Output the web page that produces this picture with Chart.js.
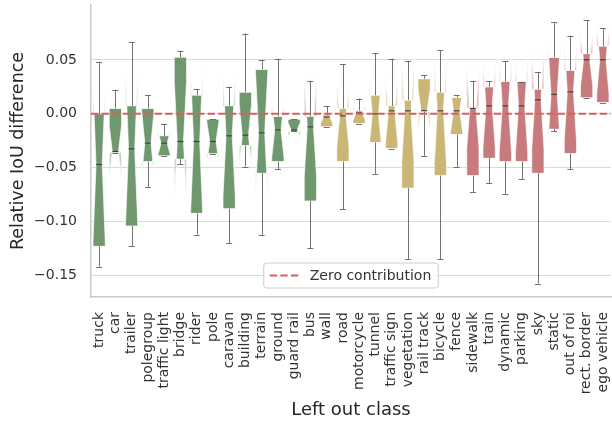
<!DOCTYPE html>
<html>
<head>
<meta charset="utf-8">
<script src="https://cdn.jsdelivr.net/npm/chart.js@4.4.1/dist/chart.umd.min.js"></script>
<style>
  html, body { margin: 0; padding: 0; background: #ffffff; }
  #wrap { width: 612px; height: 421px; position: relative; }
</style>
</head>
<body>
<div id="wrap"><canvas id="chart"></canvas></div>
<script>
// Left-out classes, in plotting order
const classes = [
  'truck', 'car', 'trailer', 'polegroup', 'traffic light', 'bridge', 'rider', 'pole',
  'caravan', 'building', 'terrain', 'ground', 'guard rail', 'bus', 'wall', 'road',
  'motorcycle', 'tunnel', 'traffic sign', 'vegetation', 'rail track', 'bicycle', 'fence',
  'sidewalk', 'train', 'dynamic', 'parking', 'sky', 'static', 'out of roi', 'rect. border', 'ego vehicle'
];

// Colour group of each class (A: harmful, B: neutral, C: helpful)
const classGroup = [
  'A','A','A','A','A','A','A','A','A','A','A','A','A','A',
  'B','B','B','B','B','B','B','B','B',
  'C','C','C','C','C','C','C','C','C'
];

// Box statistics of the relative IoU difference
const q1 = [
  -0.123, -0.036, -0.104, -0.0443, -0.039, -0.042, -0.0923, -0.037,
  -0.088, -0.0294, -0.0551, -0.0443, -0.0164, -0.0808, -0.012, -0.0443,
  -0.009, -0.0266, -0.0322, -0.069, 0.002, -0.0573, -0.0192,
  -0.0573, -0.0412, -0.0443, -0.0443, -0.0551, -0.0142, -0.0368, 0.0149, 0.0105
];
const median = [
  -0.047, -0.035, -0.0325, -0.0272, -0.0272, -0.0257, -0.0257, -0.0257,
  -0.0204, -0.0198, -0.0176, -0.0149, -0.0149, -0.0121, -0.003, -0.0019,
  0.001, 0.0, 0.0028, 0.0028, 0.003, 0.0028, 0.0028,
  0.005, 0.0074, 0.0074, 0.0074, 0.013, 0.018, 0.0204, 0.0502, 0.0502
];
const q3 = [
  0.0, 0.005, 0.0074, 0.005, -0.0204, 0.0526, 0.0173, -0.005,
  0.0074, 0.020, 0.0412, -0.0025, -0.005, -0.0025, -0.001, 0.005,
  0.003, 0.0173, 0.0074, 0.0127, 0.0325, 0.020, 0.0152,
  0.0053, 0.0248, 0.030, 0.030, 0.0229, 0.0523, 0.0402, 0.0557, 0.0628
];
// Notch (confidence interval of the median)
const notchLow = [
  -0.119, -0.059, -0.103, -0.056, -0.038, -0.081, -0.094, -0.045,
  -0.076, -0.049, -0.075, -0.040, -0.022, -0.058, -0.009, -0.031,
  -0.006, -0.030, -0.027, -0.045, -0.017, -0.047, -0.017,
  -0.032, -0.031, -0.036, -0.036, -0.033, -0.027, -0.025, 0.026, 0.019
];
const notchHigh = [
  0.025, -0.011, 0.038, 0.002, -0.016, 0.030, 0.042, -0.007,
  0.036, 0.009, 0.039, 0.010, -0.008, 0.034, 0.003, 0.027,
  0.008, 0.030, 0.033, 0.051, 0.023, 0.053, 0.023,
  0.042, 0.046, 0.051, 0.051, 0.059, 0.063, 0.065, 0.074, 0.081
];
const whiskerLow = [
  -0.142, -0.036, -0.1226, -0.0678, -0.039, -0.0467, -0.112, -0.037,
  -0.12, -0.049, -0.1124, -0.0514, -0.0164, -0.1248, -0.012, -0.0885,
  -0.009, -0.0557, -0.0322, -0.135, -0.039, -0.135, -0.0492,
  -0.0728, -0.0644, -0.0743, -0.0604, -0.1576, -0.016, -0.0514, 0.0149, 0.0105
];
const whiskerHigh = [
  0.048, 0.0223, 0.0666, 0.0176, -0.0096, 0.0585, 0.0229, -0.005,
  0.025, 0.0743, 0.0498, 0.0511, -0.005, 0.0307, 0.0071, 0.0461,
  0.0142, 0.0563, 0.0511, 0.0492, 0.0359, 0.0588, 0.0176,
  0.0307, 0.0303, 0.0489, 0.030, 0.0387, 0.0848, 0.0724, 0.087, 0.0796
];

const yTickValues = [-0.15, -0.10, -0.05, 0.00, 0.05];
const yTickLabels = ['\u22120.15', '\u22120.10', '\u22120.05', '0.00', '0.05'];
const xTitle = 'Left out class';
const yTitle = 'Relative IoU difference';
const zeroLabel = 'Zero contribution';

const groupColor = { A: '#6f986f', B: '#cbb775', C: '#c77b7d' };
const zeroColor = '#d65f5f';
const FONT = '"DejaVu Sans", sans-serif';

function hexA(hex, a) {
  const n = parseInt(hex.slice(1), 16);
  return `rgba(${(n >> 16) & 255},${(n >> 8) & 255},${n & 255},${a})`;
}

// Draws notched boxes, whiskers, medians and the zero reference line
const notchedBoxes = {
  id: 'notchedBoxes',
  afterDatasetsDraw(chart) {
    const ctx = chart.ctx;
    const ys = chart.scales.y;
    const area = chart.chartArea;
    const meta = chart.getDatasetMeta(0);
    const yp = v => ys.getPixelForValue(v);

    meta.data.forEach((el, i) => {
      const cx = el.x;
      const w = el.width;
      const L = cx - w / 2, R = cx + w / 2;
      const NL = cx - w / 4, NR = cx + w / 4;
      const pts = [
        [L, q1[i]], [R, q1[i]], [R, notchLow[i]], [NR, median[i]], [R, notchHigh[i]],
        [R, q3[i]], [L, q3[i]], [L, notchHigh[i]], [NL, median[i]], [L, notchLow[i]]
      ];
      const path = new Path2D();
      pts.forEach(([x, v], k) => k ? path.lineTo(x, yp(v)) : path.moveTo(x, yp(v)));
      path.closePath();
      const col = groupColor[classGroup[i]];
      const top = yp(q3[i]), bot = yp(q1[i]);

      // body between the quartiles
      ctx.save();
      ctx.beginPath();
      ctx.rect(L - 2, top, w + 4, bot - top);
      ctx.clip();
      ctx.fillStyle = col;
      ctx.fill(path);
      ctx.restore();

      // notch tips reaching past the quartiles
      ctx.save();
      ctx.beginPath();
      ctx.rect(area.left, area.top, area.right - area.left, area.bottom - area.top);
      ctx.rect(L - 2, top, w + 4, bot - top);
      ctx.clip('evenodd');
      ctx.fillStyle = hexA(col, 0.45);
      ctx.fill(path);
      ctx.restore();

      ctx.save();
      ctx.strokeStyle = 'rgba(255,255,255,0.6)';
      ctx.lineWidth = 1;
      ctx.lineJoin = 'miter';
      ctx.stroke(path);
      ctx.restore();

      // whiskers and caps
      ctx.save();
      ctx.strokeStyle = 'rgba(90,90,90,0.85)';
      ctx.lineWidth = 1;
      const capL = cx - w / 4, capR = cx + w / 4;
      const seg = (x1, y1, x2, y2) => { ctx.beginPath(); ctx.moveTo(x1, y1); ctx.lineTo(x2, y2); ctx.stroke(); };
      const xc = Math.round(cx) + 0.5;
      if (whiskerHigh[i] > q3[i]) {
        seg(xc, yp(q3[i]), xc, yp(whiskerHigh[i]));
      }
      if (whiskerLow[i] < q1[i]) {
        seg(xc, yp(q1[i]), xc, yp(whiskerLow[i]));
      }
      seg(capL, Math.round(yp(whiskerHigh[i])) + 0.5, capR, Math.round(yp(whiskerHigh[i])) + 0.5);
      seg(capL, Math.round(yp(whiskerLow[i])) + 0.5, capR, Math.round(yp(whiskerLow[i])) + 0.5);
      // median
      ctx.strokeStyle = 'rgba(60,60,60,0.9)';
      ctx.lineWidth = 1.2;
      seg(NL, yp(median[i]), NR, yp(median[i]));
      ctx.restore();
    });

    // zero reference line
    ctx.save();
    ctx.strokeStyle = zeroColor;
    ctx.lineWidth = 2;
    ctx.setLineDash([7.4, 3.2]);
    ctx.beginPath();
    ctx.moveTo(area.left, yp(0));
    ctx.lineTo(area.right, yp(0));
    ctx.stroke();
    ctx.restore();
  },
  afterDraw(chart) {
    // legend box, lower centre of the plot area
    const ctx = chart.ctx;
    const area = chart.chartArea;
    ctx.save();
    ctx.font = `14px ${FONT}`;
    const tw = ctx.measureText(zeroLabel).width;
    const bw = 6 + 30 + 10 + tw + 7;
    const bh = 25;
    const bx = (area.left + area.right) / 2 - bw / 2;
    const by = area.bottom - 9 - bh;
    const r = 3;
    ctx.beginPath();
    ctx.moveTo(bx + r, by);
    ctx.arcTo(bx + bw, by, bx + bw, by + bh, r);
    ctx.arcTo(bx + bw, by + bh, bx, by + bh, r);
    ctx.arcTo(bx, by + bh, bx, by, r);
    ctx.arcTo(bx, by, bx + bw, by, r);
    ctx.closePath();
    ctx.fillStyle = 'rgba(255,255,255,0.85)';
    ctx.fill();
    ctx.strokeStyle = '#cccccc';
    ctx.lineWidth = 1;
    ctx.stroke();
    const ly = by + bh / 2;
    ctx.strokeStyle = zeroColor;
    ctx.lineWidth = 2;
    ctx.setLineDash([7.4, 3.2]);
    ctx.beginPath();
    ctx.moveTo(bx + 6, ly);
    ctx.lineTo(bx + 36, ly);
    ctx.stroke();
    ctx.setLineDash([]);
    ctx.fillStyle = '#333333';
    ctx.textAlign = 'left';
    ctx.textBaseline = 'middle';
    ctx.fillText(zeroLabel, bx + 46, ly + 1);
    ctx.restore();
  }
};

new Chart(document.getElementById('chart'), {
  type: 'bar',
  data: {
    labels: classes,
    datasets: [{
      label: 'IQR',
      data: q1.map((v, i) => [v, q3[i]]),
      backgroundColor: 'rgba(0,0,0,0)',
      borderWidth: 0,
      barPercentage: 0.75,
      categoryPercentage: 1.0
    }]
  },
  options: {
    responsive: true,
    maintainAspectRatio: false,
    animation: false,
    devicePixelRatio: 1,
    layout: { padding: { top: 5, right: 1, bottom: 0, left: 0 } },
    plugins: { legend: { display: false }, tooltip: { enabled: false } },
    scales: {
      x: {
        type: 'category',
        offset: true,
        grid: { display: false, drawTicks: false },
        border: { display: true, color: '#cacaca', width: 1.5 },
        ticks: {
          autoSkip: false,
          minRotation: 90,
          maxRotation: 90,
          padding: 15,
          color: '#333333',
          font: { family: FONT, size: 14 }
        },
        title: {
          display: true,
          text: xTitle,
          color: '#262626',
          font: { family: FONT, size: 18 },
          padding: { top: 0, bottom: 0 }
        },
        afterFit(scale) {
          scale.height = 124;
          scale.paddingLeft = 0;
          scale.paddingRight = 0;
        }
      },
      y: {
        min: -0.17,
        max: 0.101,
        grid: { color: '#d9d9d9', lineWidth: 1, drawTicks: false },
        border: { display: true, color: '#cacaca', width: 1.5 },
        afterBuildTicks(scale) { scale.ticks = yTickValues.map(v => ({ value: v })); },
        ticks: {
          padding: 14,
          color: '#333333',
          font: { family: FONT, size: 14 },
          callback: (v, idx) => yTickLabels[idx]
        },
        title: {
          display: true,
          text: yTitle,
          color: '#262626',
          font: { family: FONT, size: 17.5 },
          padding: { top: 8, bottom: 0 }
        },
        afterFit(scale) {
          scale.width = 91;
          scale.paddingTop = 0;
          scale.paddingBottom = 0;
        }
      }
    }
  },
  plugins: [notchedBoxes]
});
</script>
</body>
</html>
